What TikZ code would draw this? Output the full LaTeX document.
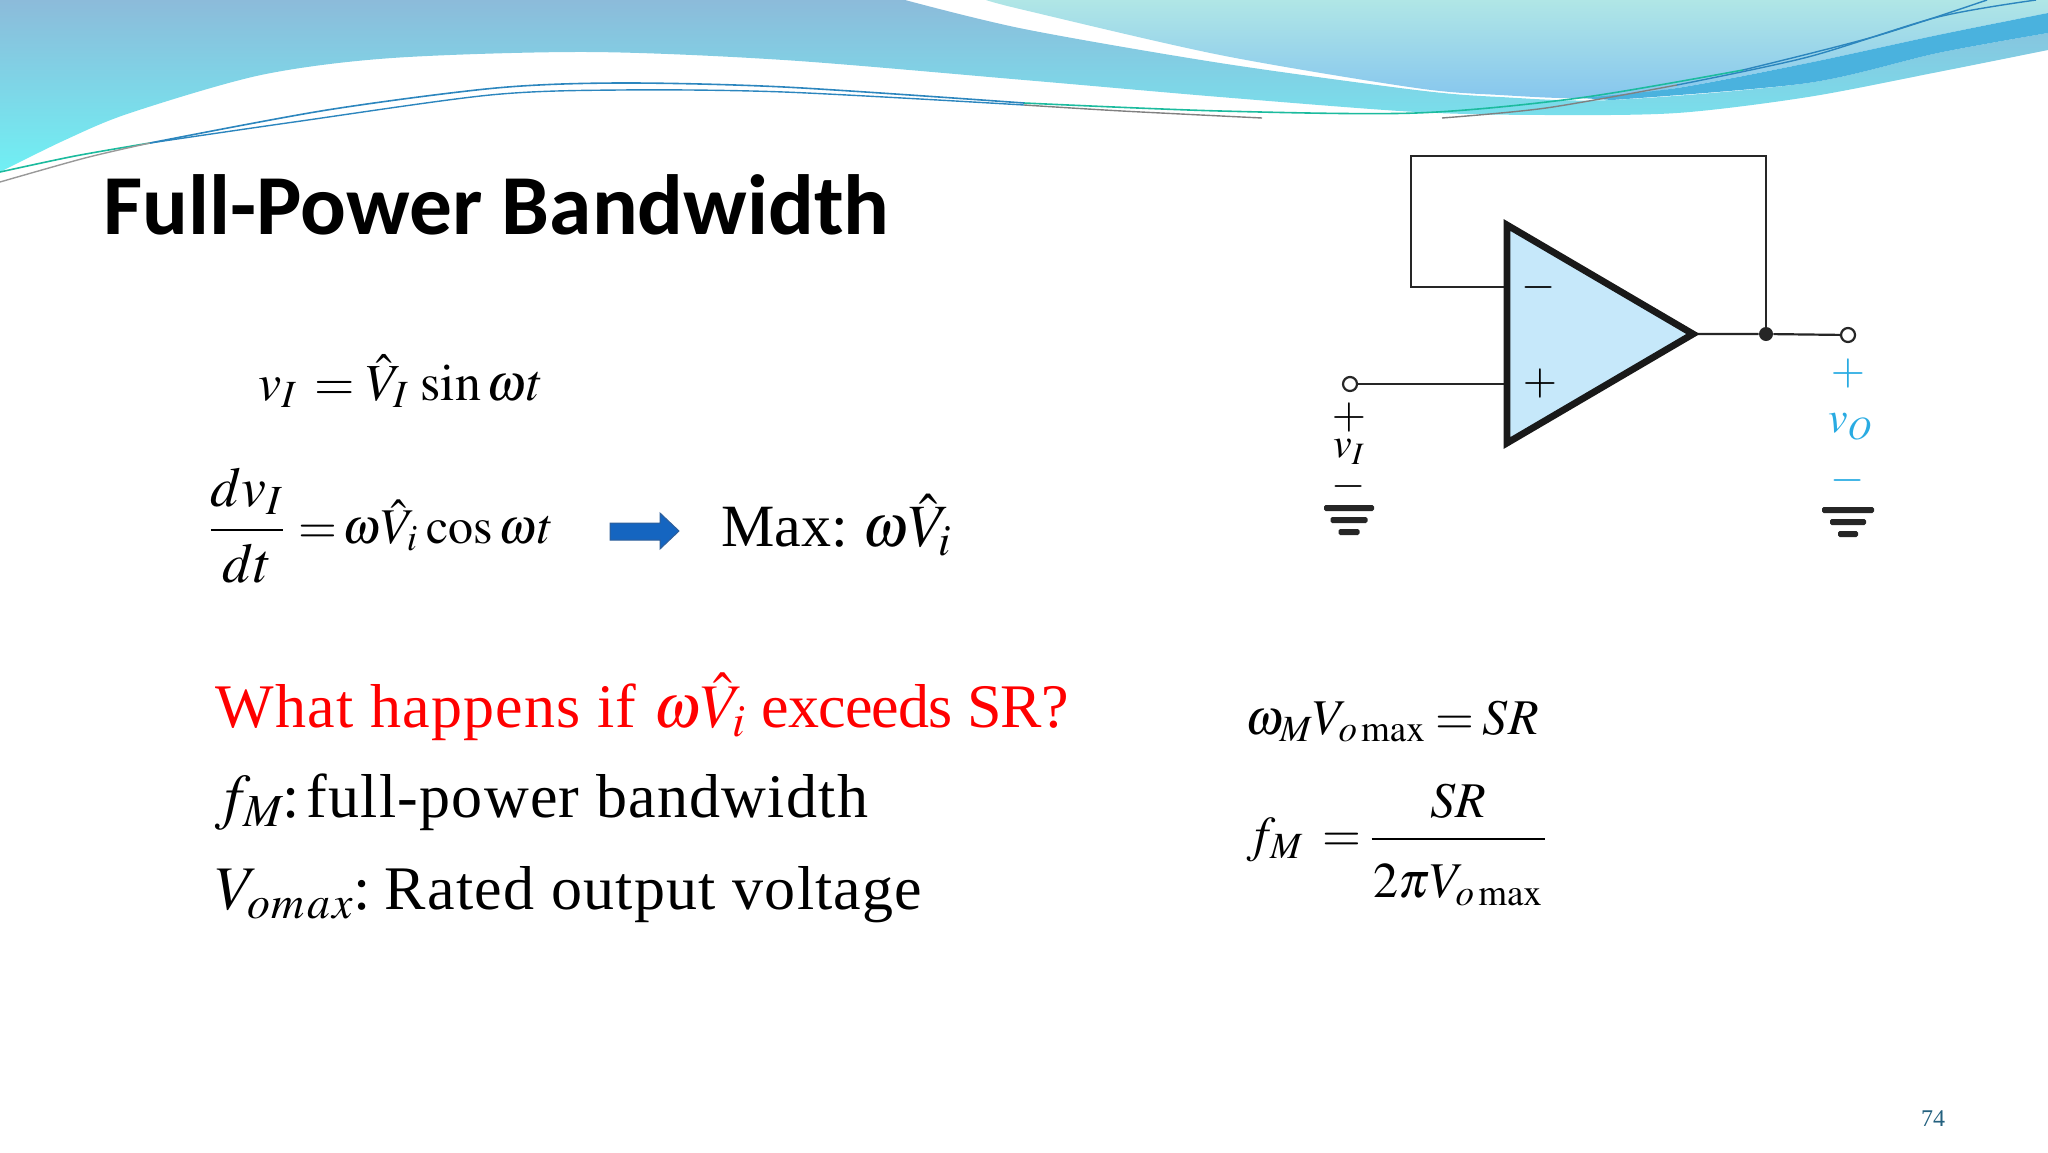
\documentclass[tikz,border=0pt]{standalone}
\usepackage[no-math]{fontspec}
\usepackage{amsmath}
\usepackage{mathptmx}
\setmainfont{Liberation Serif}
\newfontfamily\titlefont{Carlito}
\usetikzlibrary{positioning}
\definecolor{waveA}{HTML}{8CBBDA}
\definecolor{waveB}{HTML}{70F0F4}
\definecolor{waveC}{HTML}{B0E6E6}
\definecolor{waveD}{HTML}{86C6EE}
\definecolor{waveE}{HTML}{4AB2DE}
\definecolor{lineteal}{HTML}{1CBB9E}
\definecolor{lineblue}{HTML}{2C86BE}
\definecolor{ampfill}{HTML}{C6E8FA}
\definecolor{outblue}{HTML}{29ABE2}
\definecolor{arrowfill}{HTML}{1565C0}
\definecolor{arrowedge}{HTML}{2F5F9A}
\definecolor{pagenum}{HTML}{24617F}
\tikzset{
  slidetext/.style={anchor=base west,inner sep=0pt,font=\fontsize{31}{36}\selectfont},
  eqn/.style={anchor=base west,inner sep=0pt,font=\fontsize{25}{30}\selectfont},
  wire/.style={draw=black!85,line width=1.1pt},
  sign/.style={inner sep=0pt,font=\fontsize{22}{24}\selectfont},
  gndbar/.style={fill=black!85,inner sep=0pt,minimum height=3pt,rounded corners=0.8pt},
  term/.style={circle,draw=black!85,fill=white,line width=1.1pt,inner sep=0pt,minimum size=7pt},
  dotjoin/.style={circle,fill=black!85,inner sep=0pt,minimum size=7pt}
}
\begin{document}
\begin{tikzpicture}[x=0.5pt,y=-0.5pt]
\useasboundingbox (0,0) rectangle (2048,1152);
\begin{scope}
\clip (0,0) rectangle (2048,1152);
% waves
\shade[top color=waveA,bottom color=waveB] plot[smooth] coordinates {(0,172) (65,140) (130,113) (261,75) (392,58) (588,52) (784,60) (1024,80) (1220,97) (1416,112) (1546,115) (1677,113) (1808,97) (1938,72) (2048,50)} -- (2048,33) -- plot[smooth] coordinates {(2048,33) (1938,53) (1808,83) (1612,100) (1500,97) (1416,90) (1220,63) (1024,29) (905,0)} -- (0,0) -- cycle;
\shade[top color=waveC,bottom color=waveD] plot[smooth] coordinates {(986,0) (1024,10) (1220,55) (1416,88) (1500,95) (1586,98) (1677,88) (1808,63) (1938,35) (2048,13)} -- (2048,0) -- cycle;
\fill[waveE] plot[smooth] coordinates {(1580,98) (1677,88) (1808,63) (1938,35) (2048,13)} -- plot[smooth] coordinates {(2048,33) (1938,53) (1808,83) (1612,100)} -- cycle;
\draw[lineteal,line width=0.8pt] plot[smooth] coordinates {(0,172) (75,156) (150,143)};
\draw[lineblue,line width=0.8pt] plot[smooth] coordinates {(150,143) (327,110) (496,88) (620,83) (784,87) (1024,103)};
\draw[lineteal,line width=0.8pt] plot[smooth] coordinates {(1024,103) (1220,111) (1416,113) (1579,98) (1743,70)};
\draw[lineblue,line width=0.7pt] plot[smooth] coordinates {(1743,70) (1873,37) (1987,0)};
\draw[black!40,line width=0.7pt] plot[smooth] coordinates {(0,182) (85,158) (150,143)};
\draw[lineblue,line width=0.7pt] plot[smooth] coordinates {(150,143) (294,122) (490,95) (620,90) (784,92) (1024,105)};
\draw[black!50,line width=0.7pt] plot[smooth] coordinates {(1024,105) (1122,111) (1262,118)};
\draw[black!50,line width=0.7pt] plot[smooth] coordinates {(1442,118) (1546,108) (1677,85)};
\draw[lineblue,line width=0.7pt] plot[smooth] coordinates {(1677,85) (1808,57) (1938,17) (2036,0)};
\end{scope}

% title and text
\node[anchor=base west,inner sep=0pt,font=\titlefont\bfseries\fontsize{42.7}{48}\selectfont] (title) at (103,234) {Full-Power Bandwidth};
\node[eqn,font=\fontsize{26}{30}\selectfont] (eqsine) at (258,400) {$v_I\,=\hat{V}_I\,\sin\omega t$};
\node[eqn,font=\fontsize{28}{32}\selectfont] (eqfrac) at (208,544) {$\dfrac{dv_I}{dt}$};
\node[eqn] (eqderiv) at (298,543) {${=}\,\omega\hat{V}_i\kern1.5pt\cos\omega t$};
\node[slidetext,font=\fontsize{30}{36}\selectfont] (maxval) at (721,546) {Max:\kern7pt$\omega\hat{V}_i$};
\node[slidetext,text=red] (question) at (215,727) {{\addfontfeature{LetterSpace=2}What happens if }$\omega\hat{V}_i$ {\addfontfeature{LetterSpace=-1.5}exceeds SR?}};
\node[slidetext] (fmtext) at (215,817) {$f_M$\kern-1pt:\kern3.5pt{\addfontfeature{LetterSpace=2}full-power bandwidth}};
\node[slidetext] (votext) at (215,909) {$V_{o\kern1pt m\kern1pt a\kern1pt x}$:\kern7pt{\addfontfeature{LetterSpace=2}Rated output voltage}};
\node[eqn] (eqrate) at (1245,734) {$\omega_M V_{o\mathrm{\,max}}\kern5pt{=}\kern4pt SR$};
\node[eqn] (eqfm) at (1247,851) {$f_M\kern9.5pt{=}\kern4pt\dfrac{SR}{\rule{0pt}{26pt}\kern1pt 2\pi V_{o\mathrm{\,max}}\kern1pt}$};
\node[inner sep=0pt,text=pagenum,font=\fontsize{12}{14}\selectfont] (pageno) at (1933,1119) {74};

% block arrow
\fill[arrowfill,draw=arrowedge,line width=0.5pt] (610,523) -- (660,523) -- (660,513) -- (679,531) -- (660,549) -- (660,540) -- (610,540) -- cycle;

% circuit
\coordinate (topleft) at (1507,225);
\coordinate (botleft) at (1507,443);
\coordinate (tip) at (1693,334);
\coordinate (minusin) at (1507,287);
\coordinate (plusin) at (1507,384);
\coordinate (fbleft) at (1411,287);
\coordinate (fbtopl) at (1411,156);
\coordinate (fbtopr) at (1766,156);
\node[dotjoin] (join) at (1766,334) {};
\node[term] (vout) at (1848,335) {};
\node[term] (vin) at (1350,384) {};
\draw[wire] (minusin) -- (fbleft) -- (fbtopl) -- (fbtopr) -- (join);
\draw[wire] (tip) -- (join) -- (vout);
\draw[wire] (vin) -- (plusin);
\draw[fill=ampfill,draw=black!90,line width=3.4pt,line join=miter] (topleft) -- (tip) -- (botleft) -- cycle;
\node[sign] (ampminus) at (1539,287) {$-$};
\node[sign] (ampplus) at (1540,384) {$+$};

\node[sign] (inplus) at (1349,417) {$+$};
\node[sign,font=\fontsize{21}{24}\selectfont] (inlabel) at (1349,452) {$v_I$};
\node[sign] (inminus) at (1349,486) {$-$};
\node[gndbar,minimum width=25pt] (ingnda) at (1349,508) {};
\node[gndbar,minimum width=18.5pt] (ingndb) at (1349,520) {};
\node[gndbar,minimum width=10.5pt] (ingndc) at (1349,532) {};

\node[sign,text=outblue] (outplus) at (1848,373) {$+$};
\node[sign,text=outblue,font=\fontsize{22}{24}\selectfont] (outlabel) at (1850,427) {$v_O$};
\node[sign,text=outblue] (outminus) at (1848,480) {$-$};
\node[gndbar,minimum width=26pt] (outgnda) at (1848,510) {};
\node[gndbar,minimum width=18pt] (outgndb) at (1848,522) {};
\node[gndbar,minimum width=10pt] (outgndc) at (1848,534) {};
\end{tikzpicture}
\end{document}
